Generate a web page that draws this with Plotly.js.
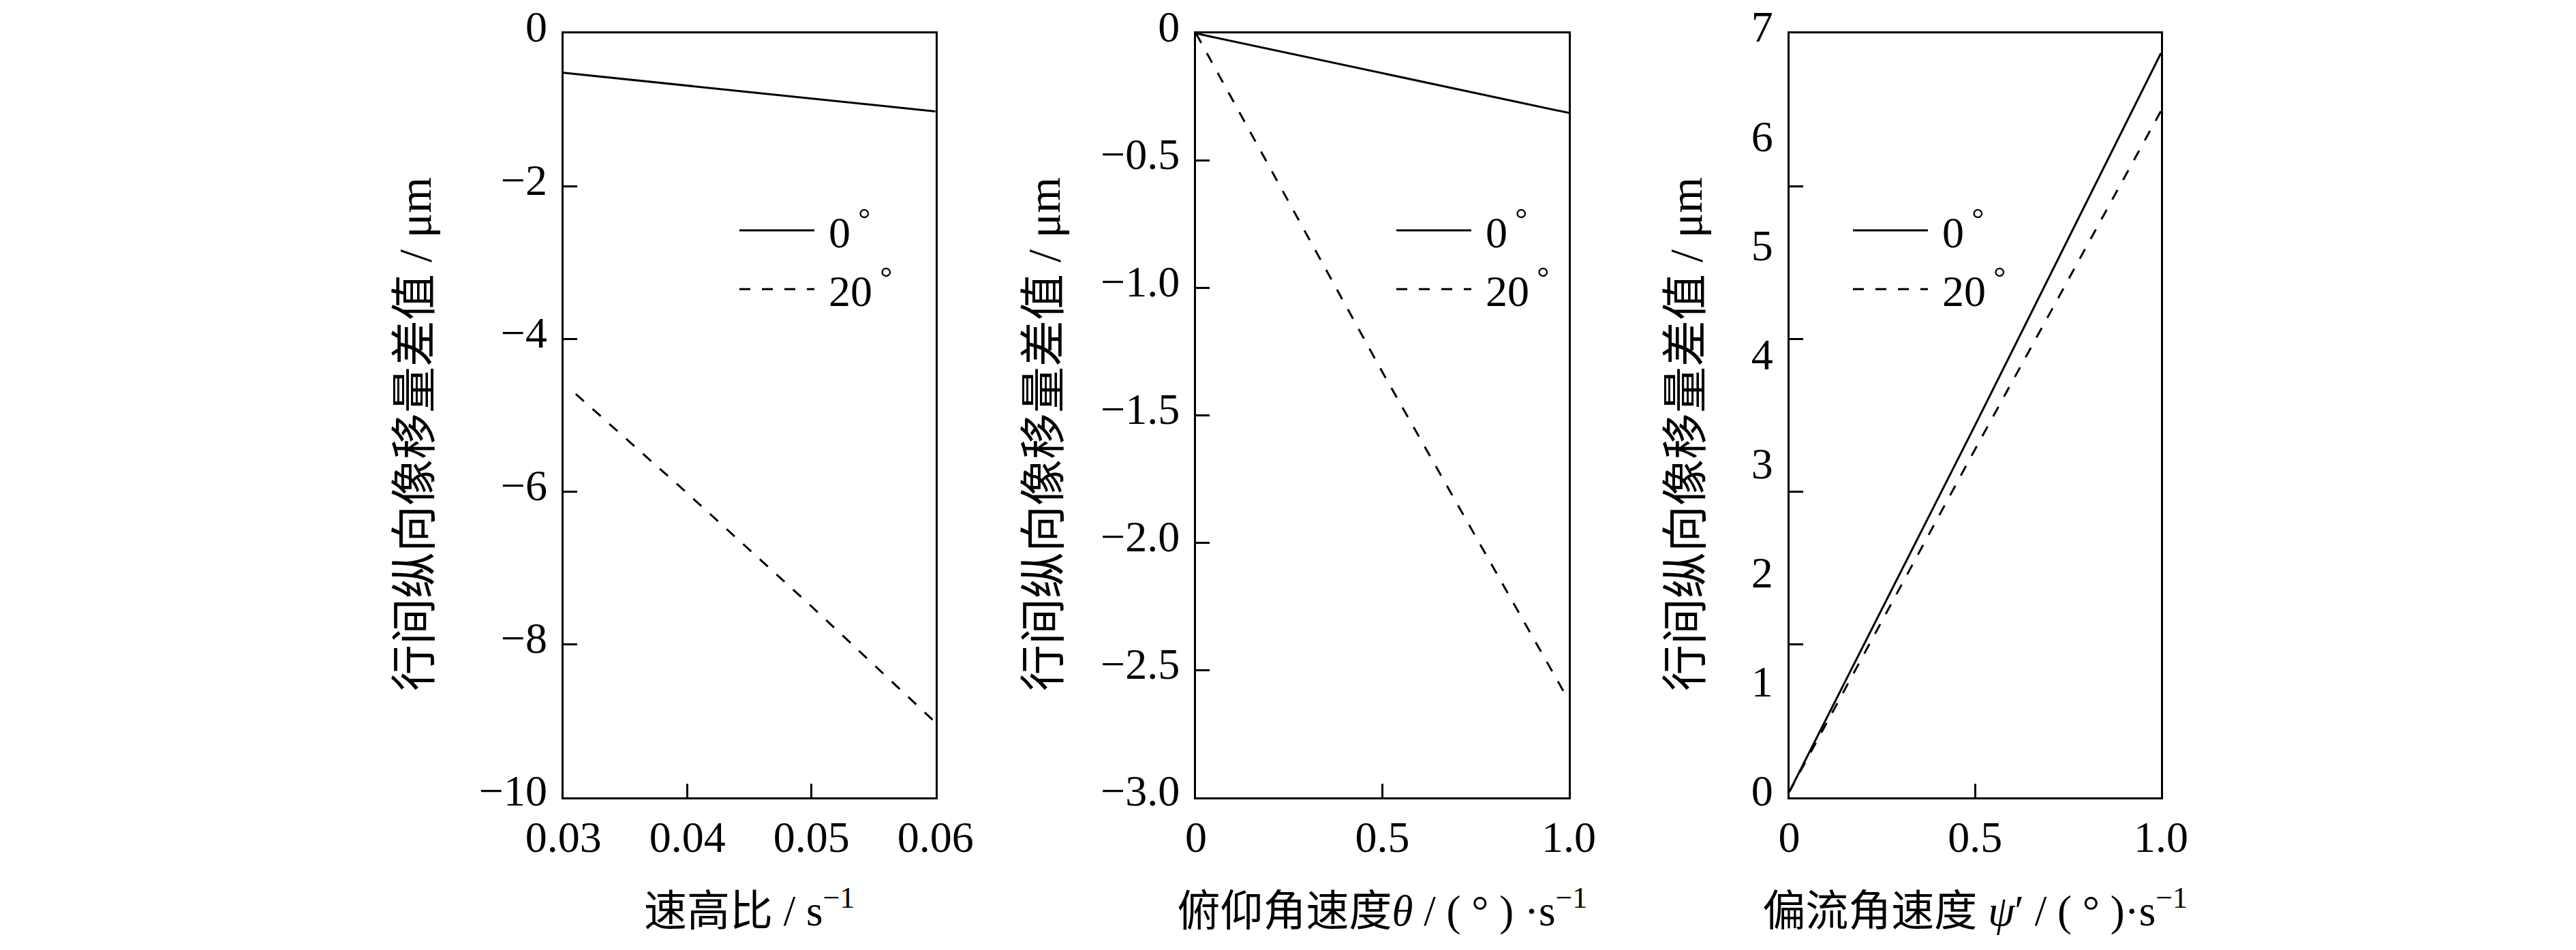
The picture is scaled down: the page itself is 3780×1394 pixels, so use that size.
<!DOCTYPE html>
<html>
<head>
<meta charset="utf-8">
<script src="https://cdn.plot.ly/plotly-3.0.1.min.js"></script>
<style>html,body{margin:0;padding:0;background:#fff;}#chart{width:3780px;height:1394px;}</style>
</head>
<body>
<div id="chart"></div>
<script>
// ---- data ----
// panel 1: speed-height ratio
const speedRatio0 = [0.03, 0.06];
const disp0_speed = [-0.515, -1.02];
const speedRatio20 = [0.031, 0.04, 0.05, 0.06];
const disp20_speed = [-4.72, -6.02, -7.50, -9.02];
// panel 2: pitch angular rate
const pitchRate = [0, 0.5, 1.0];
const disp0_pitch = [0, -0.156, -0.312];
const disp20_pitch = [0, -1.33, -2.62];
// panel 3: drift angular rate
const driftRate = [0, 0.5, 1.0];
const disp0_drift = [0.05, 3.41, 6.82];
const disp20_drift = [0.05, 3.19, 6.29];

const seriesNames = ['\u00A00<sup>\u00A0°</sup>', '\u00A020<sup>\u00A0°</sup>'];

const y1Ticks = [0, -2, -4, -6, -8, -10];
const y1Text = ['0', '−2', '−4', '−6', '−8', '−10'];
const x1Ticks = [0.03, 0.04, 0.05, 0.06];
const x1Text = ['0.03', '0.04', '0.05', '0.06'];
const y2Ticks = [0, -0.5, -1.0, -1.5, -2.0, -2.5, -3.0];
const y2Text = ['0', '−0.5', '−1.0', '−1.5', '−2.0', '−2.5', '−3.0'];
const x23Ticks = [0, 0.5, 1.0];
const x23Text = ['0', '0.5', '1.0'];
const y3LabelVals = [0, 1, 2, 3, 4, 5, 6, 7];
const y3LabelText = ['0', '1', '2', '3', '4', '5', '6', '7'];
const y3TickMarks = [1.4, 2.8, 4.2, 5.6];

const yTitle = '行间纵向像移量差值 / μm<span style="color:rgba(0,0,0,0)">\u00A0ii</span>';
const xTitles = [
  '速高比 / s<sup>−1</sup>',
  '俯仰角速度<i>θ</i> / (\u00A0°\u00A0) ·s<sup>−1</sup>',
  '偏流角速度 <i>ψ</i>′ / (\u00A0°\u00A0)·s<sup>−1</sup>'
];

// ---- styling ----
const FONT = '"Liberation Serif", "Times New Roman", "Noto Sans CJK SC", serif';
const tickFont = {family: FONT, size: 64, color: '#000'};
const xTitleFont = {family: FONT, size: 63, color: '#000'};
const yTitleFont = {family: FONT, size: 68, color: '#000'};
const solid = {color: '#000', width: 3, dash: 'solid'};
const dashed = {color: '#000', width: 3, dash: '16px,17px'};

function baseAxis(extra) {
  return Object.assign({
    showline: true, mirror: true, linecolor: '#000', linewidth: 3,
    ticks: 'inside', ticklen: 20, tickwidth: 3, tickcolor: '#000',
    showgrid: false, zeroline: false, tickfont: tickFont, tickmode: 'array',
    fixedrange: true
  }, extra);
}
function yAxis(extra) {
  return baseAxis(Object.assign({ticklabelshift: -10, ticklabelstandoff: 8}, extra));
}

const traces = [
  {x: speedRatio0, y: disp0_speed, xaxis: 'x', yaxis: 'y', name: seriesNames[0], line: solid, mode: 'lines', legend: 'legend'},
  {x: speedRatio20, y: disp20_speed, xaxis: 'x', yaxis: 'y', name: seriesNames[1], line: dashed, mode: 'lines', legend: 'legend'},
  {x: pitchRate, y: disp0_pitch, xaxis: 'x2', yaxis: 'y2', name: seriesNames[0], line: solid, mode: 'lines', legend: 'legend2'},
  {x: pitchRate, y: disp20_pitch, xaxis: 'x2', yaxis: 'y2', name: seriesNames[1], line: dashed, mode: 'lines', legend: 'legend2'},
  {x: driftRate, y: disp0_drift, xaxis: 'x3', yaxis: 'y3', name: seriesNames[0], line: solid, mode: 'lines', legend: 'legend3'},
  {x: driftRate, y: disp20_drift, xaxis: 'x3', yaxis: 'y4', name: seriesNames[1], line: dashed, mode: 'lines', legend: 'legend3'}
];

const yDom = [0.1607, 0.9648];
function legendAt(xpx) {
  return {
    x: xpx / 3780, xanchor: 'left', y: 0.792, yanchor: 'top',
    font: {family: FONT, size: 64, color: '#000'},
    bgcolor: 'rgba(0,0,0,0)', borderwidth: 0, itemwidth: 110,
    tracegroupgap: 0
  };
}

const layout = {
  width: 3780, height: 1394,
  margin: {l: 0, r: 0, t: 0, b: 0},
  paper_bgcolor: '#fff', plot_bgcolor: '#fff',
  showlegend: true,
  font: {family: FONT, color: '#000'},
  xaxis: baseAxis({domain: [0.2187, 0.36315], range: [0.03, 0.06], anchor: 'y',
    tickvals: x1Ticks, ticktext: x1Text,
    title: {text: xTitles[0], font: xTitleFont, standoff: 52}}),
  yaxis: yAxis({domain: yDom, range: [-10, 0], anchor: 'x',
    tickvals: y1Ticks, ticktext: y1Text,
    title: {text: yTitle, font: yTitleFont, standoff: 48}}),
  xaxis2: baseAxis({domain: [0.46429, 0.60899], range: [0, 1.0], anchor: 'y2',
    tickvals: x23Ticks, ticktext: x23Text,
    title: {text: xTitles[1], font: xTitleFont, standoff: 52}}),
  yaxis2: yAxis({domain: yDom, range: [-3, 0], anchor: 'x2',
    tickvals: y2Ticks, ticktext: y2Text,
    title: {text: yTitle, font: yTitleFont, standoff: 38}}),
  xaxis3: baseAxis({domain: [0.69458, 0.83889], range: [0, 1.0], anchor: 'y3',
    tickvals: x23Ticks, ticktext: x23Text,
    title: {text: xTitles[2], font: xTitleFont, standoff: 52}}),
  yaxis3: yAxis({domain: yDom, range: [0, 7], anchor: 'x3',
    tickvals: y3LabelVals, ticktext: y3LabelText, ticks: '',
    title: {text: yTitle, font: yTitleFont, standoff: 50}}),
  yaxis4: baseAxis({domain: yDom, range: [0, 7], anchor: 'x3', overlaying: 'y3',
    side: 'left', showline: false, tickvals: y3TickMarks, showticklabels: false}),
  legend: legendAt(1080),
  legend2: legendAt(2044),
  legend3: legendAt(2714)
};

Plotly.newPlot('chart', traces, layout, {staticPlot: true, displayModeBar: false});
</script>
</body>
</html>
